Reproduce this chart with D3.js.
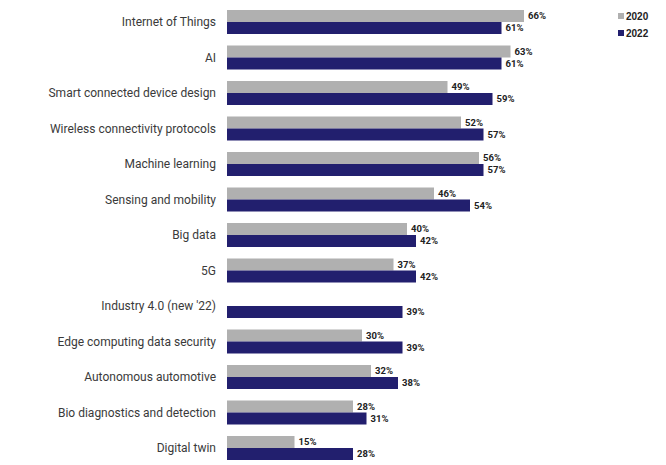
<!DOCTYPE html>
<html>
<head>
<meta charset="utf-8">
<script src="https://cdn.jsdelivr.net/npm/d3@7"></script>
<style>
  body { margin: 0; background: #fff; }
  svg { display: block; }
  .cat { font-family: Roboto, sans-serif; font-size: 12px; fill: #3a3a3a; }
  .val { font-family: Roboto, sans-serif; font-size: 9.5px; font-weight: bold; fill: #222; }
  .leg { font-family: "Liberation Sans", Arial, sans-serif; font-size: 10px; font-weight: bold; fill: #222; }
</style>
</head>
<body>
<svg id="chart" width="666" height="465"></svg>
<script>
const categories = [
  "Internet of Things", "AI", "Smart connected device design",
  "Wireless connectivity protocols", "Machine learning", "Sensing and mobility ",
  "Big data", "5G", "Industry 4.0 (new '22)", "Edge computing data security",
  "Autonomous automotive", "Bio diagnostics and detection", "Digital twin"
];
const seriesNames = ["2020", "2022"];
const values2020 = [66, 63, 49, 52, 56, 46, 40, 37, null, 30, 32, 28, 15];
const values2022 = [61, 61, 59, 57, 57, 54, 42, 42, 39, 39, 38, 31, 28];

const colors = { "2020": "#b0b0b0", "2022": "#221f6e" };

const rows = categories.map((c, i) => ({ cat: c, "2020": values2020[i], "2022": values2022[i] }));

const svg = d3.select("#chart");

const x = d3.scaleLinear().domain([0, 100]).range([227, 677]);
const y = d3.scaleBand().domain(categories).range([4.25, 465.75])
  .paddingInner(0.324).paddingOuter(0.162);
const ySub = d3.scaleBand().domain(seriesNames).range([0, y.bandwidth()]);

const group = svg.selectAll("g.row")
  .data(rows)
  .join("g")
  .attr("class", "row")
  .attr("transform", d => `translate(0,${y(d.cat)})`);

group.append("text")
  .attr("class", "cat")
  .attr("x", 216)
  .attr("y", y.bandwidth() / 2)
  .attr("dy", "0.35em")
  .attr("text-anchor", "end")
  .text(d => d.cat.trim());

const bars = group.selectAll("g.bar")
  .data(d => seriesNames.filter(s => d[s] != null).map(s => ({ s, v: d[s] })))
  .join("g")
  .attr("class", "bar");

bars.append("rect")
  .attr("x", x(0))
  .attr("y", d => ySub(d.s))
  .attr("width", d => x(d.v) - x(0))
  .attr("height", ySub.bandwidth())
  .attr("fill", d => colors[d.s]);

bars.append("text")
  .attr("class", "val")
  .attr("x", d => x(d.v) + 4)
  .attr("y", d => ySub(d.s) + ySub.bandwidth() / 2)
  .attr("dy", "0.35em")
  .text(d => d.v + "%");

// legend
const legend = svg.append("g").selectAll("g")
  .data(seriesNames)
  .join("g")
  .attr("transform", (d, i) => `translate(618,${16 + i * 17})`);
legend.append("rect")
  .attr("x", 0).attr("y", -3).attr("width", 6).attr("height", 6)
  .attr("fill", d => colors[d]);
legend.append("text")
  .attr("class", "leg")
  .attr("x", 8).attr("dy", "0.35em")
  .text(d => d);
</script>
</body>
</html>
